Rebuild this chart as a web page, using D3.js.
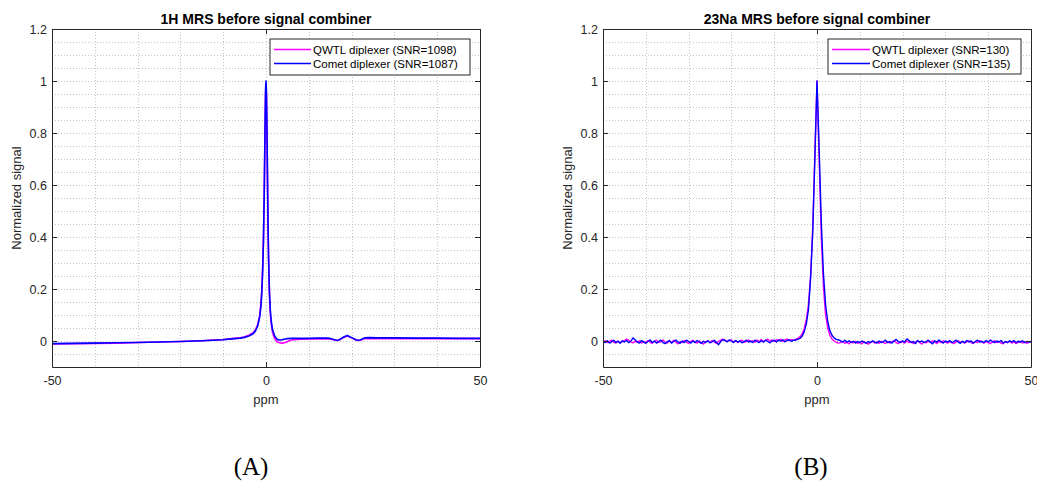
<!DOCTYPE html>
<html>
<head>
<meta charset="utf-8">
<script src="https://cdn.jsdelivr.net/npm/d3@7"></script>
<style>
  body { margin: 0; background: #fff; }
  svg { display: block; }
  text { font-family: "Liberation Sans", Arial, sans-serif; fill: #262626; }
</style>
</head>
<body>
<div id="chart"></div>
<script>
const width = 1037;
const height = 482;

// ---- data ----
const titles = ["1H MRS before signal combiner", "23Na MRS before signal combiner"];
const panelTags = ["(A)", "(B)"];
const seriesNames = ["QWTL diplexer", "Comet diplexer"];
const snrH = [1098, 1087];
const snrNa = [130, 135];
const xTicks = [-50, 0, 50];
const yTicks = [0, 0.2, 0.4, 0.6, 0.8, 1, 1.2];

// 1H spectrum, sampled at these ppm values
const ppmH = [
  -50, -45, -40, -35, -30, -25, -20, -15, -10, -8,
  -6, -5, -4, -3, -2.5, -2, -1.5, -1.2, -1, -0.8,
  -0.6, -0.4, -0.3, -0.2, -0.1, 0, 0.1, 0.2, 0.3, 0.4,
  0.5, 0.6, 0.8, 1, 1.2, 1.5, 2, 2.5, 3, 3.5,
  4, 4.5, 5, 6, 8, 10, 12, 14, 15, 16,
  16.5, 17, 18, 19, 20, 21, 21.5, 22, 23, 24,
  26, 30, 35, 40, 45, 50
];
const qwtlH = [
  -0.011, -0.010, -0.009, -0.008, -0.006, -0.004, -0.002, 0.001, 0.006, 0.009,
  0.012, 0.016, 0.022, 0.032, 0.042, 0.060, 0.095, 0.14, 0.19, 0.27,
  0.39, 0.58, 0.71, 0.84, 0.95, 0.98, 0.94, 0.83, 0.69, 0.55,
  0.42, 0.32, 0.18, 0.11, 0.07, 0.035, 0.010, -0.002, -0.006, -0.008,
  -0.008, -0.006, -0.002, 0.004, 0.007, 0.008, 0.008, 0.009, 0.008, 0.004,
  0.002, 0.003, 0.012, 0.019, 0.012, 0.004, 0.002, 0.003, 0.009, 0.010,
  0.009, 0.009, 0.009, 0.009, 0.009, 0.009
];
const cometH = [
  -0.010, -0.009, -0.008, -0.007, -0.006, -0.004, -0.002, 0.001, 0.005, 0.008,
  0.011, 0.014, 0.019, 0.028, 0.038, 0.055, 0.090, 0.13, 0.18, 0.26,
  0.38, 0.58, 0.72, 0.86, 0.97, 1.0, 0.96, 0.85, 0.70, 0.55,
  0.42, 0.32, 0.19, 0.12, 0.08, 0.045, 0.020, 0.008, 0.004, 0.004,
  0.006, 0.008, 0.009, 0.010, 0.010, 0.010, 0.011, 0.011, 0.010, 0.005,
  0.003, 0.004, 0.014, 0.021, 0.013, 0.005, 0.003, 0.004, 0.012, 0.013,
  0.012, 0.012, 0.011, 0.011, 0.010, 0.010
];

// 23Na spectrum, sampled every 0.5 ppm from -50 to 50
const naStart = -50;
const naStep = 0.5;
const qwtlNa = [
  -0.004, 0.001, -0.006, -0.001, 0.003, -0.005, -0.008, 0.000, -0.006, -0.002,
  0.002, 0.007, 0.003, -0.003, -0.007, -0.001, -0.005, 0.001, -0.008, -0.002,
  -0.006, 0.002, -0.004, -0.009, -0.002, 0.003, -0.006, -0.002, 0.004, -0.004,
  -0.008, 0.000, -0.006, 0.003, -0.004, -0.011, -0.002, -0.006, 0.002, -0.004,
  -0.009, -0.002, 0.003, -0.004, -0.008, 0.000, -0.006, -0.012, -0.003, 0.001,
  -0.006, 0.002, -0.004, -0.009, -0.001, 0.003, 0.007, 0.003, -0.002, 0.002,
  0.004, -0.003, 0.001, -0.006, 0.000, 0.003, -0.005, -0.001, 0.004, -0.003,
  0.001, -0.005, 0.004, -0.002, 0.006, -0.003, 0.002, 0.007, 0.000, 0.004,
  -0.002, 0.005, 0.001, 0.007, -0.001, 0.004, 0.007, 0.001, 0.005, 0.003,
  0.006, 0.010, 0.016, 0.026, 0.047, 0.082, 0.14, 0.25, 0.43, 0.72,
  1.0,
  0.70, 0.40, 0.21, 0.10, 0.050, 0.022, 0.008, 0.000, -0.005, -0.008,
  -0.006, -0.002, -0.009, -0.005, -0.011, -0.003, -0.007, -0.001, -0.009, -0.005,
  -0.011, -0.003, -0.007, -0.012, -0.005, -0.001, -0.008, -0.003, -0.009, -0.001,
  -0.005, -0.010, -0.002, -0.008, -0.003, 0.001, -0.006, -0.010, -0.002, -0.004,
  -0.008, 0.000, -0.006, -0.002, -0.010, -0.004, 0.001, -0.006, -0.012, -0.003,
  -0.007, -0.001, -0.006, 0.001, -0.004, -0.010, -0.002, -0.006, 0.001, -0.004,
  -0.008, -0.002, -0.006, -0.010, -0.003, 0.001, -0.006, -0.002, -0.008, -0.003,
  0.001, -0.006, -0.010, -0.002, -0.006, 0.002, -0.004, -0.008, -0.002, -0.006,
  -0.010, -0.003, 0.001, -0.006, -0.002, -0.008, -0.011, -0.003, -0.006, -0.001,
  -0.008, -0.003, -0.010, -0.005, -0.001, -0.008, -0.003, -0.009, -0.005, -0.003
];
const cometNa = [
  -0.001, -0.006, 0.001, -0.008, -0.003, 0.003, -0.006, -0.001, -0.009, 0.001,
  -0.004, 0.002, -0.006, -0.001, 0.012, 0.005, -0.003, -0.008, 0.002, -0.004,
  -0.009, -0.002, 0.004, -0.006, 0.000, -0.008, -0.002, 0.003, -0.006, -0.010,
  -0.003, 0.002, -0.008, -0.002, 0.004, -0.004, -0.009, 0.000, -0.006, 0.003,
  -0.002, -0.008, 0.000, -0.006, 0.002, -0.004, -0.009, -0.001, -0.006, 0.001,
  -0.007, -0.003, 0.003, -0.006, -0.014, -0.002, 0.005, 0.002, -0.003, 0.004,
  -0.001, -0.006, 0.002, -0.004, 0.000, -0.007, -0.002, 0.003, -0.004, 0.000,
  -0.006, 0.003, -0.002, -0.006, 0.001, -0.004, 0.004, -0.002, -0.007, 0.000,
  0.003, -0.004, 0.004, -0.001, 0.005, -0.003, 0.002, 0.005, -0.001, 0.003,
  0.004, 0.006, 0.010, 0.018, 0.035, 0.065, 0.12, 0.24, 0.42, 0.70,
  1.0,
  0.74, 0.46, 0.26, 0.14, 0.075, 0.040, 0.022, 0.012, 0.006, 0.004,
  0.001, -0.004, 0.003, -0.005, 0.001, -0.006, -0.001, -0.008, -0.002, -0.006,
  0.000, -0.004, -0.009, -0.002, -0.006, 0.001, -0.004, -0.008, 0.000, -0.006,
  -0.002, 0.003, -0.006, -0.002, -0.008, 0.000, 0.006, -0.002, -0.006, 0.001,
  -0.004, 0.008, 0.002, -0.006, -0.002, -0.010, 0.002, -0.004, 0.000, -0.006,
  -0.002, 0.003, -0.004, -0.011, 0.001, -0.004, 0.004, -0.002, -0.008, 0.000,
  -0.004, 0.002, -0.006, -0.002, 0.003, -0.004, -0.009, -0.001, -0.006, 0.002,
  -0.004, 0.000, -0.008, -0.002, 0.003, -0.004, -0.001, -0.006, 0.002, -0.004,
  0.004, -0.002, -0.006, 0.000, -0.004, 0.002, -0.008, -0.002, -0.006, 0.001,
  -0.004, 0.002, -0.006, -0.001, -0.004, 0.001, -0.006, -0.002, -0.004, -0.002
];

const colors = ["#ff00ff", "#0000ff"];

// ---- layout ----
const plotTop = 29;
const plotBottom = 367;
const panels = [
  {
    left: 52, right: 480, title: titles[0], tag: panelTags[0], tagX: 251,
    ppm: ppmH, series: [qwtlH, cometH], snr: snrH, lw: 1.6,
    legend: { x: 270, y: 39, w: 200, h: 36, lineW: 37 }
  },
  {
    left: 603, right: 1031, title: titles[1], tag: panelTags[1], tagX: 811,
    ppm: qwtlNa.map((d, i) => naStart + i * naStep), series: [qwtlNa, cometNa], snr: snrNa, lw: 1.4,
    legend: { x: 828, y: 39, w: 193, h: 35, lineW: 38 }
  }
];

const svg = d3
  .select("#chart")
  .append("svg")
  .attr("width", width)
  .attr("height", height);

panels.forEach((p, pi) => {
  const x = d3.scaleLinear().domain([-50, 50]).range([p.left, p.right]);
  const y = d3.scaleLinear().domain([-0.1, 1.2]).range([plotBottom, plotTop]);
  const g = svg.append("g");

  // grid (major + minor, all dotted)
  const xGrid = d3.range(-40, 50, 10);
  const yGrid = d3.range(-0.05, 1.2, 0.05).map((v) => Math.round(v * 100) / 100);
  g.append("g")
    .selectAll("line")
    .data(xGrid)
    .enter()
    .append("line")
    .attr("x1", (d) => Math.round(x(d)) + 0.5)
    .attr("x2", (d) => Math.round(x(d)) + 0.5)
    .attr("y1", plotTop)
    .attr("y2", plotBottom)
    .attr("stroke", "#c4c4c4")
    .attr("stroke-dasharray", "1,2");
  g.append("g")
    .selectAll("line")
    .data(yGrid)
    .enter()
    .append("line")
    .attr("x1", p.left)
    .attr("x2", p.right)
    .attr("y1", (d) => Math.round(y(d)) + 0.5)
    .attr("y2", (d) => Math.round(y(d)) + 0.5)
    .attr("stroke", "#c4c4c4")
    .attr("stroke-dasharray", "1,2");

  // data lines
  const clipId = "clip" + pi;
  svg.append("clipPath")
    .attr("id", clipId)
    .append("rect")
    .attr("x", p.left)
    .attr("y", plotTop)
    .attr("width", p.right - p.left)
    .attr("height", plotBottom - plotTop);

  const line = d3.line()
    .x((d, i) => x(p.ppm[i]))
    .y((d) => y(d));

  p.series.forEach((s, si) => {
    g.append("path")
      .attr("clip-path", "url(#" + clipId + ")")
      .attr("d", line(s))
      .attr("fill", "none")
      .attr("stroke", colors[si])
      .attr("stroke-width", p.lw)
      .attr("stroke-linejoin", "round");
  });

  // axes, ticks pointing inward
  const axisStyle = (sel) => {
    sel.select(".domain").attr("stroke", "#262626");
    sel.selectAll(".tick line").attr("stroke", "#262626");
    sel.selectAll(".tick text")
      .attr("fill", "#262626")
      .style("font-family", "'Liberation Sans', Arial, sans-serif")
      .style("font-size", "12.5px");
  };

  g.append("g")
    .attr("transform", "translate(0," + plotBottom + ")")
    .call(d3.axisBottom(x).tickValues(xTicks).tickSize(-5).tickSizeOuter(0).tickPadding(9).tickFormat((d) => String(d)))
    .call(axisStyle);
  g.append("g")
    .attr("transform", "translate(0," + plotTop + ")")
    .call(d3.axisTop(x).tickValues(xTicks).tickSize(-5).tickSizeOuter(0).tickFormat(""))
    .call(axisStyle);
  g.append("g")
    .attr("transform", "translate(" + p.left + ",0)")
    .call(d3.axisLeft(y).tickValues(yTicks).tickSize(-5).tickSizeOuter(0).tickPadding(5).tickFormat((d) => String(d)))
    .call(axisStyle);
  g.append("g")
    .attr("transform", "translate(" + p.right + ",0)")
    .call(d3.axisRight(y).tickValues(yTicks).tickSize(-5).tickSizeOuter(0).tickFormat(""))
    .call(axisStyle);

  // title and axis labels
  const cx = (p.left + p.right) / 2;
  g.append("text")
    .attr("x", cx)
    .attr("y", 24)
    .attr("text-anchor", "middle")
    .style("font-size", "14px")
    .style("font-weight", "bold")
    .style("fill", "#000")
    .text(p.title);
  g.append("text")
    .attr("x", cx)
    .attr("y", 404)
    .attr("text-anchor", "middle")
    .style("font-size", "13px")
    .text("ppm");
  g.append("text")
    .attr("transform", "translate(" + (p.left - 31) + "," + (plotTop + plotBottom) / 2 + ") rotate(-90)")
    .attr("text-anchor", "middle")
    .style("font-size", "13px")
    .text("Normalized signal");

  // legend
  const lg = g.append("g").attr("transform", "translate(" + p.legend.x + "," + p.legend.y + ")");
  lg.append("rect")
    .attr("width", p.legend.w)
    .attr("height", p.legend.h)
    .style("fill", "#fff")
    .style("stroke", "#262626");
  seriesNames.forEach((name, si) => {
    const ly = 10.5 + si * 14;
    lg.append("path")
      .attr("d", "M4," + ly + "H" + (4 + p.legend.lineW))
      .style("fill", "none")
      .style("stroke", colors[si])
      .style("stroke-width", 1.5);
    lg.append("text")
      .attr("x", 6 + p.legend.lineW)
      .attr("y", ly + 4)
      .style("font-size", "11.5px")
      .style("fill", "#000")
      .text(name + " (SNR=" + p.snr[si] + ")");
  });

  // panel tag
  svg.append("text")
    .attr("x", p.tagX)
    .attr("y", 475)
    .attr("text-anchor", "middle")
    .style("font-family", "'Liberation Serif', 'Times New Roman', serif")
    .style("font-size", "25px")
    .style("fill", "#000")
    .text(p.tag);
});
</script>
</body>
</html>
